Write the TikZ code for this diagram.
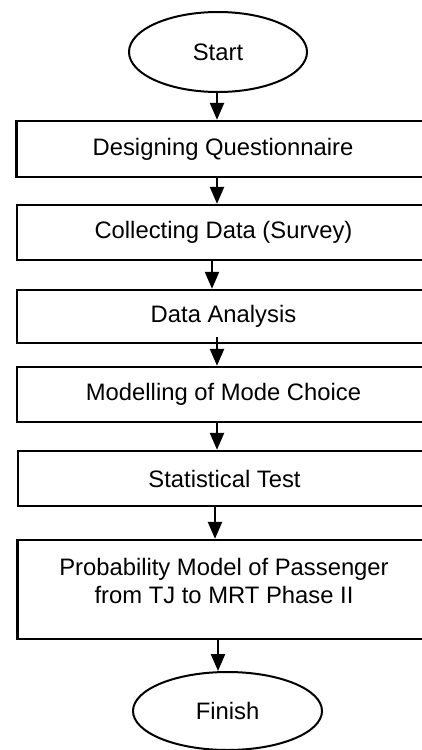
\documentclass[tikz,border=0pt]{standalone}
\usepackage{fontspec}
\setmainfont{Liberation Sans}
\usetikzlibrary{arrows.meta,shapes.geometric}
\begin{document}
\begin{tikzpicture}[x=1pt,y=-1pt,
  every node/.style={font=\fontsize{23.8}{28}\selectfont, text=black},
  term/.style={draw, ellipse, line width=2pt, inner sep=0pt},
  box/.style={draw, rectangle, line width=2.4pt, inner sep=0pt, minimum width=413pt},
  arr/.style={line width=2.4pt, -{Triangle[width=14pt,length=17pt]}}]
\useasboundingbox (0,0) rectangle (422,750);
\clip (0,0) rectangle (422,750);
\node[term, minimum width=178pt, minimum height=80pt] (start) at (218,52) {Start};
\node[box, minimum height=56pt] (b1) at (223,149) {Designing Questionnaire};
\node[box, minimum height=55pt] (b2) at (223.5,232.5) {Collecting Data (Survey)};
\node[box, minimum height=53pt] (b3) at (223.5,316.5) {Data Analysis};
\node[box, minimum height=55pt] (b4) at (223.5,394.5) {Modelling of Mode Choice};
\node[box, minimum height=55pt] (b5) at (224.5,478.5) {Statistical Test};
\node[box, minimum height=99pt] (b6) at (224,589.5) {};
\node[align=center, inner sep=0pt] (t6) at ([yshift=8.5pt]b6.center) {Probability Model of Passenger\\from TJ to MRT Phase II};
\node[term, minimum width=189pt, minimum height=78pt] (finish) at (227.5,711) {Finish};
\coordinate (ax) at (217,0);
\coordinate (ay) at (212,0);
\coordinate (az) at (215,0);
\coordinate (aw) at (218,0);
\draw[arr] (start.south -| ax) -- (b1.north -| ax);
\draw[arr] (b1.south -| ax) -- (b2.north -| ax);
\draw[arr] (b2.south -| ay) -- (b3.north -| ay);
\draw[arr] ([yshift=7pt]b3.south -| ax) -- (b4.north -| ax);
\draw[arr] (b4.south -| ax) -- (b5.north -| ax);
\draw[arr] (b5.south -| az) -- (b6.north -| az);
\draw[arr] (b6.south -| aw) -- (finish.north -| aw);
\end{tikzpicture}
\end{document}
